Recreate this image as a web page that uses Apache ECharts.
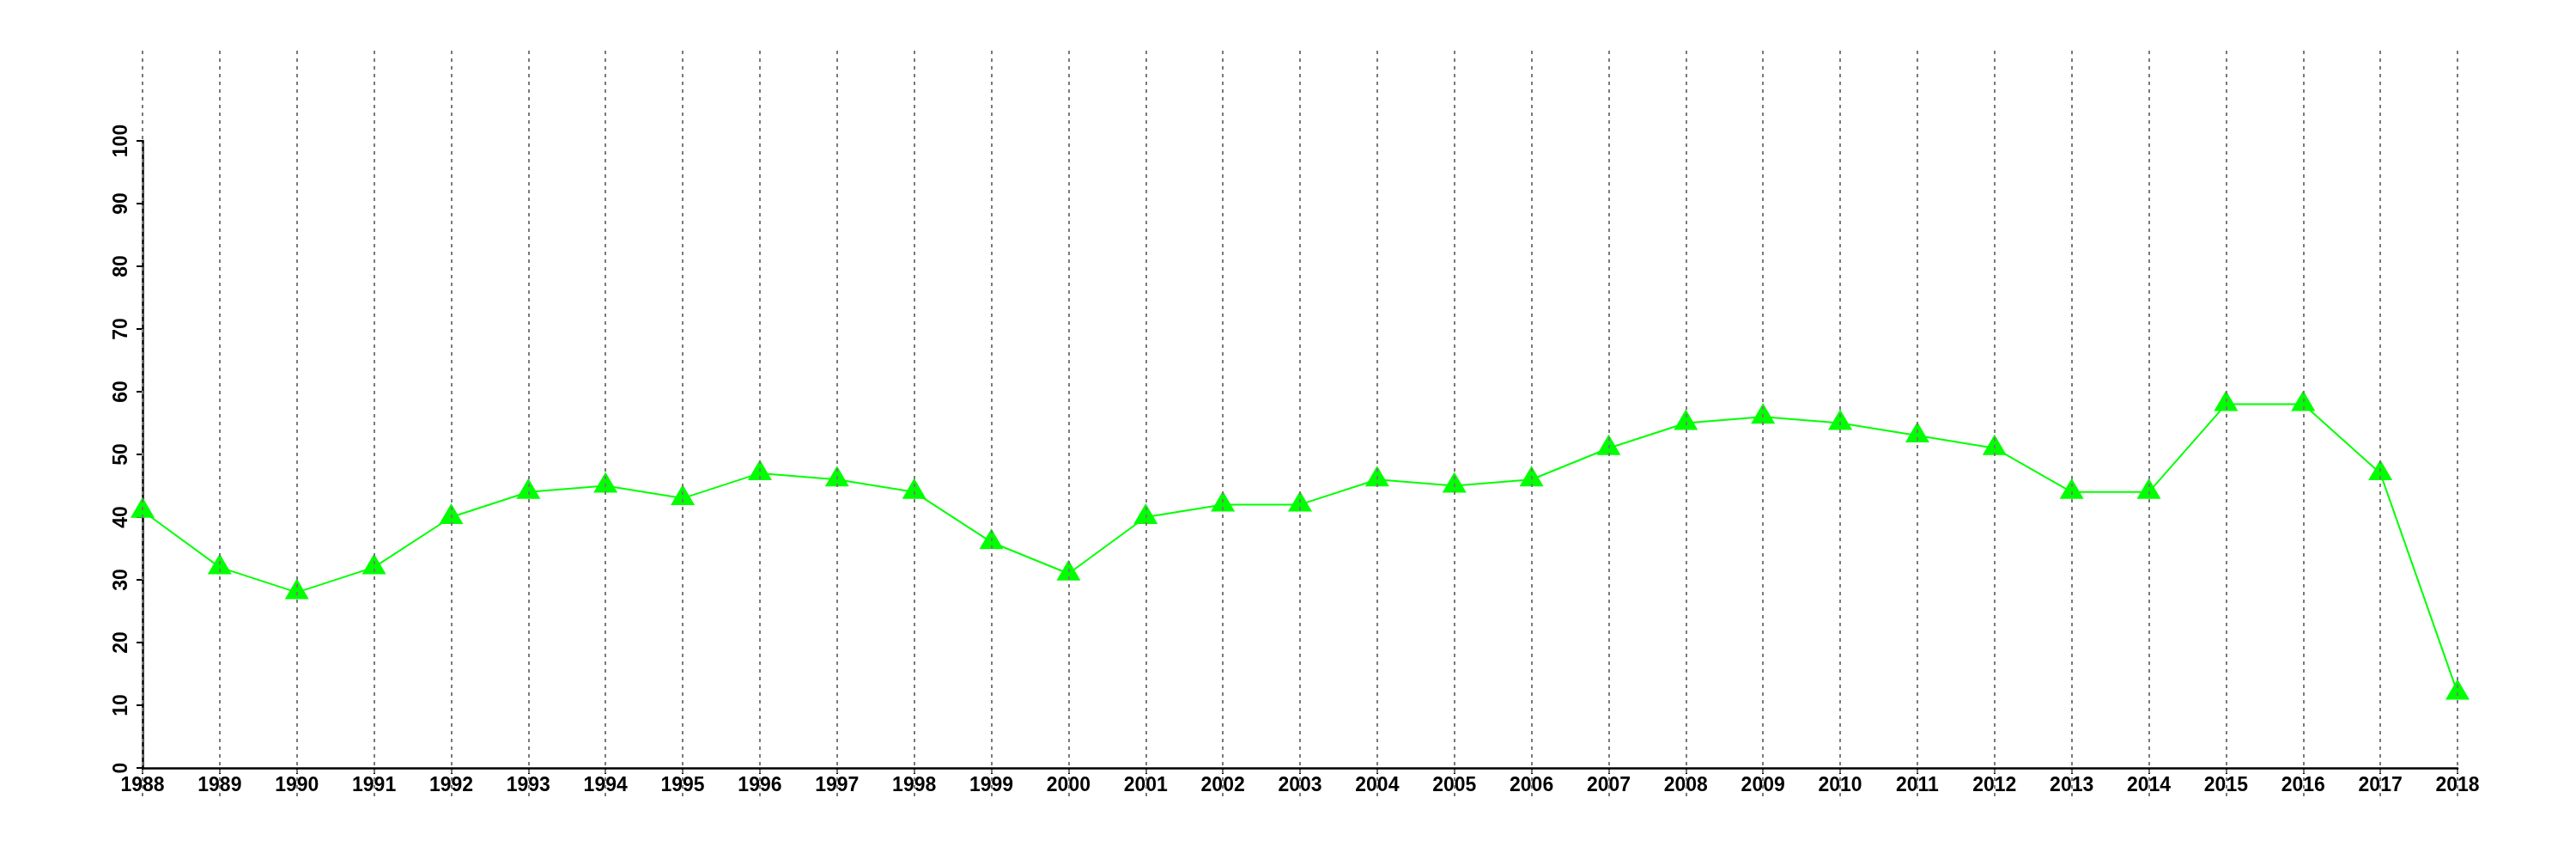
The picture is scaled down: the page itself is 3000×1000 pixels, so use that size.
<!DOCTYPE html>
<html>
<head>
<meta charset="utf-8">
<script src="https://cdn.jsdelivr.net/npm/echarts@6/dist/echarts.min.js"></script>
<style>
html,body{margin:0;padding:0;background:#fff;}
#chart{width:3000px;height:1000px;}
</style>
</head>
<body>
<div id="chart"></div>
<script>
const years = ['1988','1989','1990','1991','1992','1993','1994','1995','1996','1997','1998','1999','2000','2001','2002','2003','2004','2005','2006','2007','2008','2009','2010','2011','2012','2013','2014','2015','2016','2017','2018'];
const values = [41,32,28,32,40,44,45,43,47,46,44,36,31,40,42,42,46,45,46,51,55,56,55,53,51,44,44,58,58,47,12];
const yMin = 0;
const yMax = 100;
const yStep = 10;

const chart = echarts.init(document.getElementById('chart'));
const labelFont = {color:'#000', fontFamily:'Liberation Sans', fontWeight:'bold', fontSize:23};
chart.setOption({
  backgroundColor:'#fff',
  animation:false,
  grid:[
    {left:166, right:138, top:164, bottom:106},
    {left:166, right:138, top:59, bottom:72}
  ],
  xAxis:[
    {type:'category', gridIndex:0, data:years, boundaryGap:false,
     axisLine:{lineStyle:{color:'#000', width:2.5}},
     axisTick:{show:true, length:7, alignWithLabel:true, interval:0, lineStyle:{color:'#000', width:2}},
     axisLabel:Object.assign({interval:0, margin:9}, labelFont),
     splitLine:{show:false}},
    {type:'category', gridIndex:1, data:years, boundaryGap:false, z:10,
     axisLine:{show:false}, axisTick:{show:false}, axisLabel:{show:false},
     splitLine:{show:true, interval:0, lineStyle:{color:'#7a7a7a', width:2, type:[4,5]}}}
  ],
  yAxis:[
    {type:'value', gridIndex:0, min:yMin, max:yMax, interval:yStep,
     axisLine:{show:true, lineStyle:{color:'#000', width:2.5}},
     axisTick:{show:true, length:7, lineStyle:{color:'#000', width:2}},
     axisLabel:Object.assign({rotate:90, margin:13}, labelFont),
     splitLine:{show:false}},
    {type:'value', gridIndex:1, min:0, max:1, show:false}
  ],
  series:[
    {type:'line', xAxisIndex:0, yAxisIndex:0, data:values,
     symbol:'triangle', symbolSize:[28,24], symbolOffset:[0,-4],
     lineStyle:{color:'#00ff00', width:2},
     itemStyle:{color:'#00ff00', borderWidth:0},
     clip:false}
  ]
});
</script>
</body>
</html>
